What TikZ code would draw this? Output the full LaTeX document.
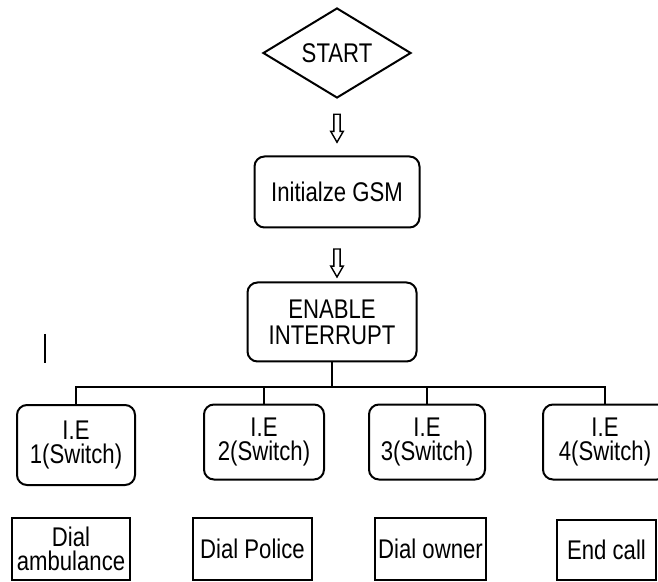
\documentclass[tikz,border=0pt]{standalone}
\usepackage{fontspec}
\setmainfont[FakeStretch=0.82]{Liberation Sans}
\usetikzlibrary{arrows.meta,shapes.geometric,shapes.arrows,positioning}
\tikzset{
  line/.style={line width=1pt,draw=black},
  harrow/.style={single arrow,draw,line width=0.7pt,rotate=-90,inner sep=1.2pt,
                 minimum height=14pt,minimum width=5.5pt,
                 single arrow head extend=1.6pt,single arrow tip angle=60},
  startbox/.style={diamond,line width=1pt,draw,inner sep=0pt,
                   minimum width=74pt,minimum height=45pt},
  box/.style={rounded corners=5pt,line width=1pt,draw,align=center,inner sep=0pt},
  ibox/.style={box,minimum height=37.5pt},
  dialbox/.style={draw,line width=1pt,align=center,inner sep=0pt,minimum height=31pt}
}

\begin{document}
\begin{tikzpicture}[x=0.5pt,y=-0.5pt,font=\fontsize{13.5}{12}\selectfont]
  \clip (0,0) rectangle (658,582);
  \node[startbox] (start) at (337,53) {START};
  \node[box,minimum width=82.5pt,minimum height=35.5pt] (gsm) at (337,192) {Initialze GSM};
  \node[box,minimum width=84.5pt,minimum height=39.5pt,
        font=\fontsize{13.5}{13}\selectfont] (enable) at (332,322) {ENABLE\\INTERRUPT};
  \path (start.south) -- node[harrow,pos=0.47] (a1) {} (gsm.north);
  \path (gsm.south) -- node[harrow,pos=0.6,xshift=0pt] (a2) {} (gsm.south |- enable.north);

  % switches
  \node[ibox,minimum width=59pt,minimum height=40pt] (ie1) at (76,445) {I.E\\1(Switch)};
  \node[ibox,minimum width=60pt] (ie2) at (264,442) {I.E\\2(Switch)};
  \node[ibox,minimum width=58pt] (ie3) at (427,442) {I.E\\3(Switch)};
  \node[ibox,minimum width=62pt] (ie4) at (605,442) {I.E\\4(Switch)};

  \coordinate (bus) at (332,387);
  \draw[line] (enable.south) -- (bus);
  \draw[line] (ie1.north) |- (bus) -| (ie4.north);
  \draw[line] (ie2.north) -- (ie2.north |- bus);
  \draw[line] (ie3.north) -- (ie3.north |- bus);

  % actions
  \node[dialbox,minimum width=59pt] (amb) at (71,549) {Dial\\ambulance};
  \node[dialbox,minimum width=59.5pt] (police) at (252.5,549) {Dial Police};
  \node[dialbox,minimum width=55.5pt] (owner) at (430.5,549) {Dial owner};
  \node[dialbox,minimum width=49.5pt,minimum height=30pt] (endcall) at (606.5,550) {End call};

  \draw[line width=0.8pt] (45,334) -- (45,363);
\end{tikzpicture}
\end{document}
